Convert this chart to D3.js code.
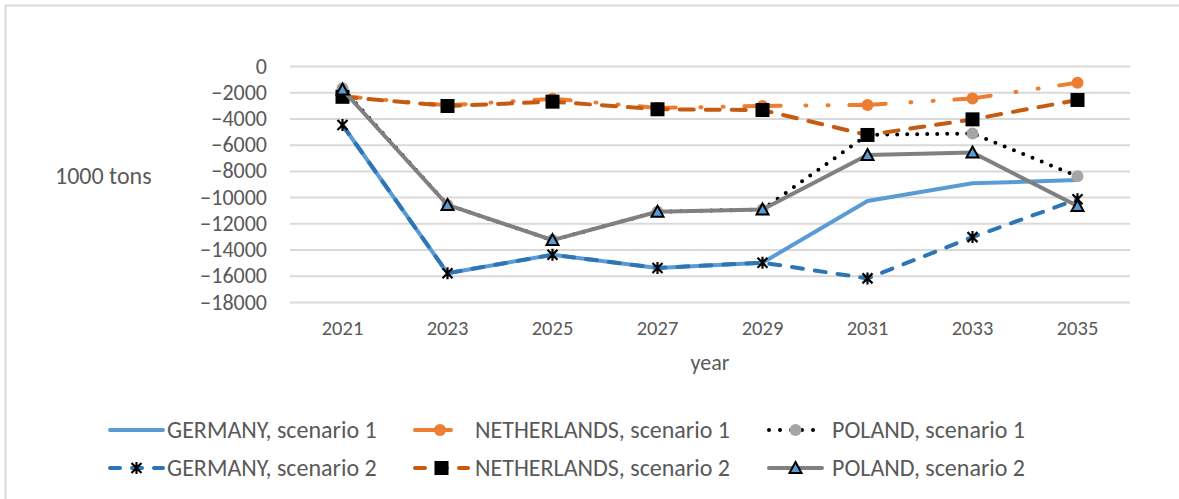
<!DOCTYPE html>
<html>
<head>
<meta charset="utf-8">
<script src="https://cdn.jsdelivr.net/npm/d3@7"></script>
<style>
  html, body { margin: 0; padding: 0; background: #fff; }
  svg { display: block; }
  text { font-family: "Carlito", "Liberation Sans", Arial, sans-serif; fill: #595959; }
</style>
</head>
<body>
<script>
// ---------- data ----------
const years = ["2021", "2023", "2025", "2027", "2029", "2031", "2033", "2035"];
const yTicks = [0, -2000, -4000, -6000, -8000, -10000, -12000, -14000, -16000, -18000];
const germany1     = [-4500, -15800, -14400, -15400, -15000, -10300, -8950, -8700];
const germany2     = [-4500, -15800, -14400, -15400, -15000, -16200, -13050, -10170];
const netherlands1 = [-2300, -3000, -2500, -3200, -3050, -2970, -2470, -1270];
const netherlands2 = [-2350, -3050, -2720, -3300, -3360, -5260, -4070, -2590];
const poland1      = [-1700, -10600, -13280, -11120, -10940, -5250, -5150, -8400];
const poland2      = [-1800, -10600, -13280, -11120, -10940, -6790, -6600, -10680];
const seriesNames = ["GERMANY, scenario 1", "NETHERLANDS, scenario 1", "POLAND, scenario 1",
                     "GERMANY, scenario 2", "NETHERLANDS, scenario 2", "POLAND, scenario 2"];
const yTitle = "1000 tons";
const xTitle = "year";

// ---------- layout ----------
const W = 1179, H = 499;
const plot = { left: 290, right: 1130, top: 66, bottom: 302 };

const svg = d3.select("body").append("svg").attr("width", W).attr("height", H);

// outer chart border
svg.append("rect").attr("x", 5.5).attr("y", 5.5).attr("width", 1300).attr("height", 700)
  .attr("fill", "none").attr("stroke", "#D9D9D9").attr("stroke-width", 2);

const x = d3.scaleBand().domain(years).range([plot.left, plot.right]);
const y = d3.scaleLinear().domain([-18000, 0]).range([plot.bottom, plot.top]);
const cx = d => x(d) + x.bandwidth() / 2;

// y axis with gridlines
const gy = svg.append("g").attr("transform", `translate(${plot.left},0)`)
  .call(d3.axisLeft(y).tickValues(yTicks).tickFormat(d3.format("d"))
    .tickSize(-(plot.right - plot.left)).tickPadding(23));
gy.select(".domain").remove();
gy.selectAll(".tick line").attr("stroke", "#D9D9D9").attr("stroke-width", 2);
gy.selectAll(".tick text").style("font-size", "22px").attr("fill", "#595959");

// x axis
const gx = svg.append("g").attr("transform", `translate(0,${plot.bottom})`)
  .call(d3.axisBottom(x).tickSize(0).tickPadding(18));
gx.select(".domain").remove();
gx.selectAll(".tick text").style("font-size", "20.5px").attr("fill", "#595959");

// titles
svg.append("text").attr("x", 55).attr("y", 176).attr("dy", "0.35em")
  .style("font-size", "24px").text(yTitle);
svg.append("text").attr("x", (plot.left + plot.right) / 2).attr("y", 362).attr("dy", "0.35em")
  .attr("text-anchor", "middle").style("font-size", "22px").text(xTitle);

// ---------- markers ----------
function drawMarker(g, type, px, py) {
  if (type === "circleOrange") {
    g.append("circle").attr("cx", px).attr("cy", py).attr("r", 6).attr("fill", "#ED7D31");
  } else if (type === "circleGrey") {
    g.append("circle").attr("cx", px).attr("cy", py).attr("r", 6).attr("fill", "#A5A5A5");
  } else if (type === "square") {
    g.append("rect").attr("x", px - 7).attr("y", py - 7).attr("width", 14).attr("height", 14).attr("fill", "#000");
  } else if (type === "triangle") {
    g.append("path").attr("d", `M${px},${py - 6} L${px + 6},${py + 5} L${px - 6},${py + 5} Z`)
      .attr("fill", "#5B9BD5").attr("stroke", "#000").attr("stroke-width", 2).attr("stroke-linejoin", "miter");
  } else if (type === "star") {
    const s = 5;
    g.append("path")
      .attr("d", `M${px - s},${py - s} L${px + s},${py + s} M${px + s},${py - s} L${px - s},${py + s} M${px},${py - s - 1} L${px},${py + s + 1}`)
      .attr("stroke", "#000").attr("stroke-width", 2.2).attr("fill", "none");
  }
}

const lineGen = d3.line().x((d, i) => cx(years[i])).y(d => y(d));

const series = [
  { name: seriesNames[0], data: germany1, color: "#5B9BD5", width: 4, dash: null, marker: null },
  { name: seriesNames[1], data: netherlands1, color: "#ED7D31", width: 4, dash: "ldd", marker: "circleOrange" },
  { name: seriesNames[2], data: poland1, color: "#000", width: 4, dash: "0,10", marker: "circleGrey" },
  { name: seriesNames[3], data: germany2, color: "#2E75B6", width: 4, dash: "11,12", marker: "star" },
  { name: seriesNames[4], data: netherlands2, color: "#C55A11", width: 4, dash: "14,12", marker: "square" },
  { name: seriesNames[5], data: poland2, color: "#808080", width: 4, dash: null, marker: "triangle" }
];

const gLines = svg.append("g");
series.forEach(s => {
  const g = gLines.append("g");
  if (s.dash === "ldd") {
    // long dash - dot - dot, restarted and centred on each point
    for (let i = 0; i < s.data.length - 1; i++) {
      const x0 = cx(years[i]), y0 = y(s.data[i]), x1 = cx(years[i + 1]), y1 = y(s.data[i + 1]);
      const L = Math.hypot(x1 - x0, y1 - y0);
      const k = L / 104;
      const pat = [36, 24.5, 1, 21, 1, 20.5].map(v => v * k);
      g.append("path").attr("d", `M${x0},${y0} L${x1},${y1}`)
        .attr("fill", "none").attr("stroke", s.color).attr("stroke-width", s.width)
        .attr("stroke-linecap", "round").attr("stroke-dasharray", pat.join(","))
        .attr("stroke-dashoffset", -((104 - 18) * k));
    }
  } else {
    g.append("path").datum(s.data).attr("d", lineGen)
      .attr("fill", "none").attr("stroke", s.color).attr("stroke-width", s.width)
      .attr("stroke-linecap", "round").attr("stroke-linejoin", "round")
      .attr("stroke-dasharray", s.dash);
  }
  if (s.marker) s.data.forEach((v, i) => drawMarker(g, s.marker, cx(years[i]), y(v)));
});

// ---------- legend ----------
const legCols = [108, 413, 767];
const legTextOffset = [59, 62, 65];
const legRows = [430, 468];
const sampleLen = 55;
series.forEach((s, i) => {
  const col = i % 3, row = Math.floor(i / 3);
  const lx = legCols[col], ly = legRows[row];
  const g = svg.append("g");
  if (s.dash === "ldd") {
    g.append("line").attr("x1", lx + 2).attr("x2", lx + 38).attr("y1", ly).attr("y2", ly)
      .attr("stroke", s.color).attr("stroke-width", s.width).attr("stroke-linecap", "round");
  } else {
    g.append("line").attr("x1", lx + 2).attr("x2", lx + sampleLen).attr("y1", ly).attr("y2", ly)
      .attr("stroke", s.color).attr("stroke-width", s.width).attr("stroke-linecap", "round")
      .attr("stroke-dasharray", s.dash === "0,10" ? "0,11" : (s.dash ? "10,12" : null));
  }
  if (s.marker) drawMarker(g, s.marker, lx + (s.dash === "ldd" ? 27 : sampleLen / 2 + 1), ly);
  g.append("text").attr("x", lx + legTextOffset[col]).attr("y", ly).attr("dy", "0.35em")
    .style("font-size", "24px").text(s.name);
});
</script>
</body>
</html>
